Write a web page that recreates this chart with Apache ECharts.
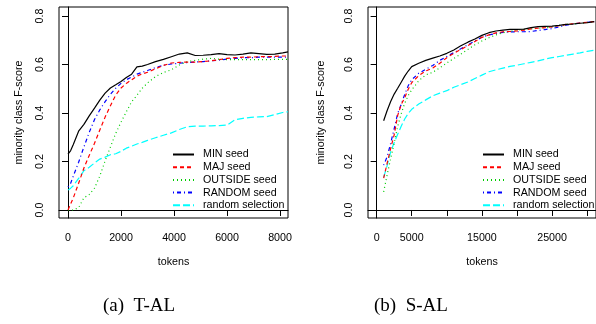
<!DOCTYPE html>
<html>
<head>
<meta charset="utf-8">
<script src="https://cdn.jsdelivr.net/npm/echarts@6/dist/echarts.min.js"></script>
<style>
html,body{margin:0;padding:0;background:#fff;}
#c{width:596px;height:324px;}
</style>
</head>
<body>
<div id="c"></div>
<script>
// ---- data ----
const seriesNames = ["MIN seed", "MAJ seed", "OUTSIDE seed", "RANDOM seed", "random selection"];

// (a) T-AL
const tokensA = [0,100,200,400,600,800,1000,1200,1400,1600,1800,2000,2200,2400,2600,2800,3000,3300,3600,3900,4200,4500,4800,5100,5400,5700,6000,6300,6600,6900,7200,7500,7800,8100,8300];
const minA  = [0.23,0.245,0.27,0.325,0.353,0.388,0.42,0.453,0.482,0.503,0.516,0.53,0.546,0.56,0.59,0.593,0.6,0.612,0.621,0.632,0.643,0.648,0.637,0.638,0.641,0.645,0.641,0.639,0.643,0.648,0.645,0.642,0.643,0.648,0.652];
const majA  = [0,0.025,0.05,0.11,0.173,0.225,0.275,0.33,0.383,0.43,0.474,0.503,0.522,0.537,0.552,0.561,0.568,0.582,0.596,0.606,0.609,0.61,0.61,0.612,0.615,0.62,0.625,0.628,0.63,0.63,0.632,0.632,0.633,0.635,0.635];
const outA  = [0,0,0,0.01,0.05,0.064,0.09,0.14,0.203,0.26,0.316,0.362,0.405,0.446,0.473,0.502,0.524,0.55,0.567,0.578,0.598,0.612,0.617,0.622,0.625,0.622,0.62,0.62,0.62,0.62,0.62,0.62,0.621,0.621,0.621];
const randA = [0.095,0.11,0.14,0.197,0.26,0.32,0.373,0.413,0.447,0.477,0.502,0.522,0.537,0.548,0.56,0.568,0.575,0.587,0.597,0.602,0.605,0.608,0.61,0.612,0.615,0.618,0.622,0.625,0.628,0.628,0.63,0.63,0.63,0.63,0.63];
const selA  = [0.082,0.09,0.1,0.13,0.162,0.176,0.194,0.21,0.218,0.228,0.232,0.242,0.255,0.263,0.272,0.279,0.287,0.298,0.308,0.318,0.332,0.343,0.346,0.346,0.347,0.348,0.35,0.372,0.378,0.382,0.384,0.385,0.393,0.402,0.405];

// (b) S-AL
const tokensB = [1000,1500,2000,2500,3000,3500,4000,4500,5000,6000,7000,8000,9000,10000,11000,12000,13000,14000,15000,16000,17000,18000,19000,20000,21000,22000,23000,24000,25000,26000,27000,28000,29000,30000,31000];
const minB  = [0.368,0.41,0.447,0.478,0.502,0.527,0.552,0.573,0.591,0.605,0.617,0.626,0.635,0.646,0.66,0.677,0.692,0.705,0.72,0.731,0.738,0.742,0.745,0.745,0.746,0.752,0.756,0.757,0.758,0.761,0.765,0.767,0.77,0.772,0.777];
const majB  = [0.131,0.193,0.254,0.31,0.39,0.435,0.463,0.498,0.525,0.554,0.573,0.585,0.605,0.628,0.646,0.662,0.678,0.695,0.712,0.722,0.73,0.735,0.736,0.738,0.742,0.747,0.75,0.752,0.755,0.76,0.765,0.768,0.771,0.774,0.777];
const outB  = [0.075,0.145,0.212,0.275,0.345,0.397,0.44,0.472,0.495,0.533,0.557,0.568,0.586,0.606,0.625,0.643,0.662,0.681,0.697,0.71,0.722,0.731,0.737,0.742,0.745,0.747,0.749,0.751,0.755,0.761,0.765,0.767,0.77,0.773,0.777];
const randB = [0.185,0.22,0.275,0.335,0.398,0.435,0.477,0.512,0.537,0.564,0.58,0.596,0.617,0.633,0.649,0.665,0.681,0.697,0.712,0.722,0.728,0.732,0.734,0.735,0.735,0.736,0.74,0.744,0.748,0.755,0.762,0.767,0.771,0.774,0.777];
const selB  = [0.135,0.183,0.24,0.278,0.312,0.345,0.375,0.398,0.415,0.437,0.454,0.471,0.482,0.492,0.506,0.517,0.528,0.542,0.556,0.57,0.578,0.585,0.592,0.597,0.603,0.609,0.615,0.622,0.628,0.633,0.638,0.643,0.648,0.654,0.659];

// tick labels
const yTicks = [0, 0.2, 0.4, 0.6, 0.8];
const xTicksA = [0, 2000, 4000, 6000, 8000];
const xTicksB = [0, 5000, 10000, 15000, 20000, 25000, 30000];
const xLabelsB = [0, 5000, 15000, 25000];
const captions = ["(a)  T-AL", "(b)  S-AL"];

// ---- styling ----
const FONT = "'Liberation Sans', Arial, Helvetica, sans-serif";
const FS = 10.7;
const styles = [
  { color: "#000000", type: "solid" },
  { color: "#FF0000", type: [4, 3] },
  { color: "#00CD00", type: [1, 3] },
  { color: "#0000FF", type: [1, 3, 4, 3] },
  { color: "#00FFFF", type: [7, 3] }
];

function pairs(xs, ys) { return xs.map((x, i) => [x, ys[i]]); }

const panelA = [minA, majA, outA, randA, selA];
const panelB = [minB, majB, outB, randB, selB];

const series = [];
[[tokensA, panelA], [tokensB, panelB]].forEach(([xs, sets], g) => {
  sets.forEach((ys, k) => {
    series.push({
      type: "line",
      name: seriesNames[k],
      xAxisIndex: g, yAxisIndex: g,
      data: pairs(xs, ys),
      symbol: "none",
      smooth: false,
      color: styles[k].color,
      lineStyle: { color: styles[k].color, width: 1.2, type: styles[k].type },
      z: 10 - k
    });
  });
});

function xAxis(g, min, max, ticks, labels) {
  return {
    type: "value", gridIndex: g, min: min, max: max,
    name: "tokens", nameLocation: "middle", nameGap: 39,
    nameTextStyle: { fontFamily: FONT, fontSize: FS, color: "#000" },
    axisLine: { show: true, lineStyle: { color: "#000", width: 1 } },
    axisTick: { show: true, length: 6, inside: false, customValues: ticks, lineStyle: { color: "#000", width: 1 } },
    axisLabel: { show: true, customValues: labels, margin: 15, fontFamily: FONT, fontSize: FS, color: "#000", formatter: v => String(v) },
    splitLine: { show: false }
  };
}
function yAxis(g, nameGap) {
  return {
    type: "value", gridIndex: g, min: -0.033, max: 0.837,
    name: "minority class F-score", nameLocation: "middle", nameRotate: 90, nameGap: nameGap,
    nameTextStyle: { fontFamily: FONT, fontSize: FS, color: "#000" },
    axisLine: { show: true, lineStyle: { color: "#000", width: 1 } },
    axisTick: { show: true, length: 6, inside: false, customValues: yTicks, lineStyle: { color: "#000", width: 1 } },
    axisLabel: { show: true, customValues: yTicks, rotate: 90, margin: 13.5, fontFamily: FONT, fontSize: FS, color: "#000", formatter: v => v.toFixed(1) },
    splitLine: { show: false }
  };
}
function legend(left) {
  return {
    orient: "vertical", left: left, top: 149,
    data: seriesNames,
    itemWidth: 21, itemHeight: 11, itemGap: 1.7,
    selectedMode: false,
    itemStyle: { opacity: 0 },
    textStyle: { fontFamily: FONT, fontSize: FS, color: "#000", padding: [0, 0, 0, 4] },
    backgroundColor: "transparent", padding: 0
  };
}

const chart = echarts.init(document.getElementById("c"), null, { renderer: "canvas" });
chart.setOption({
  animation: false,
  backgroundColor: "#fff",
  grid: [
    { left: 59, top: 7, width: 229, height: 211, show: true, borderColor: "#000", borderWidth: 1, backgroundColor: "transparent", containLabel: false },
    { left: 368, top: 7, width: 230, height: 211, show: true, borderColor: "#000", borderWidth: 1, backgroundColor: "transparent", containLabel: false }
  ],
  xAxis: [ xAxis(0, -340, 8300, xTicksA, xTicksA), xAxis(1, -1230, 31260, xTicksB, xLabelsB) ],
  yAxis: [ yAxis(0, 34.5), yAxis(1, 41.5) ],
  legend: [ legend(172), legend(482) ],
  series: series,
  graphic: [
    { type: "text", left: 141 - 38, top: 297, style: { text: captions[0], font: "19px 'Liberation Serif', 'Times New Roman', serif", fill: "#000" } },
    { type: "text", left: 412 - 38, top: 297, style: { text: captions[1], font: "19px 'Liberation Serif', 'Times New Roman', serif", fill: "#000" } }
  ]
});
</script>
</body>
</html>
